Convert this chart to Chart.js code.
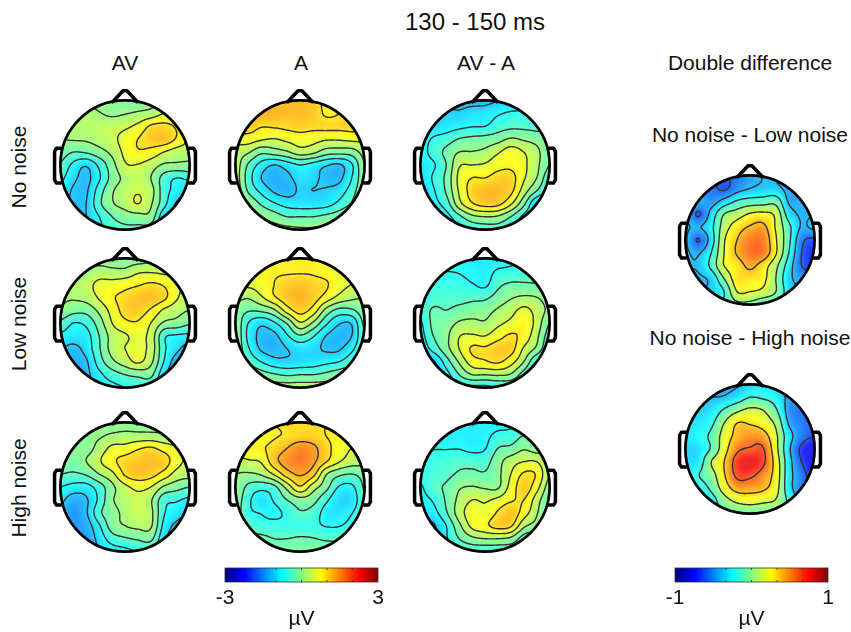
<!DOCTYPE html>
<html lang="en">
<head>
<meta charset="UTF-8">
<title>130 - 150 ms</title>
<script src="https://cdn.jsdelivr.net/npm/chart.js"></script>
<style>
    html, body { margin: 0; padding: 0; background: #fff; }
    #page { position: relative; width: 851px; height: 632px; overflow: hidden; font-family: "Liberation Sans", sans-serif; color: #111; }
    #page canvas { position: absolute; }
    .lbl { position: absolute; transform: translate(-50%, -50%); white-space: nowrap; font-size: 21px; }
    .rot { transform: translate(-50%, -50%) rotate(-90deg); }
</style>
</head>
<body>
<div id="page">
    <div class="lbl" style="left:475px;top:22px;font-size:24px">130 - 150 ms</div>
    <div class="lbl" style="left:125px;top:63px">AV</div>
    <div class="lbl" style="left:301px;top:63px">A</div>
    <div class="lbl" style="left:486px;top:63px">AV - A</div>
    <div class="lbl" style="left:750px;top:63px">Double difference</div>
    <div class="lbl" style="left:750px;top:135px">No noise - Low noise</div>
    <div class="lbl" style="left:750px;top:338px">No noise - High noise</div>
    <div class="lbl rot" style="left:19px;top:167px">No noise</div>
    <div class="lbl rot" style="left:19px;top:324px">Low noise</div>
    <div class="lbl rot" style="left:19px;top:488px">High noise</div>
</div>
<script>
// each grid: 11 rows front to back, 11 columns left to right, in uV
const noNoiseAV = [
    [0.1,0.1,0.1,0,0,-0.1,-0.1,-0.05,0,0.1,0.2],
    [0.2,0.2,0.2,0.12,0.03,0.08,0.15,0.25,0.5,0.6,0.7],
    [0.2,0.2,0.25,0.3,0.35,0.42,0.6,0.95,1.0,0.85,0.6],
    [0.1,0.13,0.15,0.25,0.4,0.65,0.9,1.1,1.15,0.85,0.5],
    [-0.1,-0.3,-0.25,-0.05,0.2,0.6,0.85,0.75,0.5,0.3,0.25],
    [-0.35,-0.8,-1.05,-0.6,-0.05,0.45,0.48,0.3,0.05,0.02,0],
    [-0.6,-1.0,-1.2,-0.75,-0.15,0.2,0.35,0.1,-0.45,-0.7,-0.6],
    [-0.8,-1.15,-1.15,-0.5,0.05,0.3,0.47,0.25,-0.5,-0.85,-1.1],
    [-1.0,-1.15,-1.1,-0.4,0.05,0.25,0.5,0.15,-0.55,-1.15,-1.3],
    [-1.1,-1.15,-1.1,-0.7,-0.3,-0.1,-0.05,-0.05,-1.0,-1.3,-1.3],
    [-1.1,-1.1,-1.1,-0.8,-0.5,-0.4,-0.4,-0.5,-1.1,-1.3,-1.3]
];
const noNoiseA = [
    [1.15,1.15,1.2,1.2,1.2,1.2,1.1,0.8,0.85,1.1,1.1],
    [1.2,1.25,1.25,1.25,1.2,1.2,1.12,0.85,0.9,1.1,1.1],
    [1.1,1.1,0.93,0.95,1.0,1.05,1.0,1.0,1.0,1.05,1.1],
    [0.7,0.7,0.55,0.48,0.6,0.7,0.65,0.55,0.55,0.6,0.6],
    [0.3,0.15,-0.2,-0.1,0.05,0.3,0.2,-0.1,-0.15,-0.1,0.25],
    [0.3,-0.35,-0.85,-1.1,-0.9,-0.7,-0.85,-1.05,-1.15,-0.75,0.1],
    [0.3,-0.5,-1.1,-1.3,-1.2,-0.95,-1.0,-1.2,-1.2,-0.7,0],
    [0.4,-0.35,-0.8,-1.15,-1.25,-1.05,-1.1,-1.05,-0.9,-0.5,0.1],
    [0.5,0.1,-0.35,-0.65,-0.85,-0.9,-0.9,-0.85,-0.6,-0.25,0.3],
    [0.5,0.3,0.1,-0.1,-0.3,-0.3,-0.3,-0.2,-0.05,0.2,0.4],
    [0.5,0.4,0.3,0.25,0.2,0.15,0.15,0.2,0.25,0.3,0.4]
];
const noNoiseDiff = [
    [-1.2,-1.2,-1.2,-1.2,-1.2,-1.2,-1.1,-1,-0.9,-0.9,-0.9],
    [-1.2,-1.2,-1.05,-1.05,-0.95,-0.9,-0.75,-0.65,-0.65,-0.7,-0.7],
    [-1.1,-1.0,-0.9,-0.8,-0.72,-0.7,-0.5,-0.4,-0.4,-0.45,-0.5],
    [-0.9,-0.65,-0.5,-0.28,-0.2,-0.15,-0.05,0.15,0.05,-0.05,-0.2],
    [-0.85,-0.55,-0.2,0.1,0.12,0.2,0.45,0.7,0.5,0.2,-0.2],
    [-0.9,-0.75,-0.3,0.45,0.5,0.55,0.75,0.8,0.58,0.2,-0.3],
    [-1.0,-0.65,-0.2,0.6,0.9,0.9,1.05,1.05,0.55,0.1,-0.6],
    [-1.1,-0.75,-0.25,0.55,1.05,1.2,1.22,1.0,0.3,-0.3,-0.8],
    [-1.2,-0.85,-0.5,0.35,0.85,1.05,1.0,0.55,-0.2,-1.1,-1.2],
    [-1.2,-1.0,-0.85,-0.4,0,0.1,0.05,-0.3,-0.8,-1.1,-1.2],
    [-1.2,-1.1,-1,-0.8,-0.6,-0.5,-0.5,-0.7,-1,-1.2,-1.2]
];
const lowNoiseAV = [
    [0,0,0,-0.05,-0.1,-0.1,-0.1,0,0.1,0.2,0.2],
    [0.1,0.1,0.1,0.25,0.2,0.2,0.42,0.45,0.4,0.4,0.4],
    [0.2,0.2,0.35,0.6,0.65,0.75,0.85,0.95,0.85,0.55,0.4],
    [0.15,0.15,0.25,0.55,0.85,1.0,1.15,1.2,1.0,0.55,0.3],
    [0.05,-0.15,-0.15,0.2,0.65,1.05,1.1,0.85,0.45,0.25,0.1],
    [-0.4,-0.7,-0.6,-0.1,0.5,0.8,0.85,0.5,0.05,-0.05,-0.25],
    [-0.8,-0.9,-0.85,-0.3,0.25,0.45,0.6,0.35,-0.6,-0.75,-0.8],
    [-1.1,-1.2,-0.95,-0.35,0.25,0.5,0.6,0.35,-0.6,-1.0,-1.3],
    [-1.3,-1.3,-1.15,-0.5,0,0.3,0.55,0.2,-0.7,-1.3,-1.4],
    [-1.3,-1.3,-1.2,-0.8,-0.5,-0.3,-0.2,-0.2,-1.0,-1.4,-1.4],
    [-1.3,-1.3,-1.2,-0.9,-0.8,-0.7,-0.6,-0.6,-1.1,-1.4,-1.4]
];
const lowNoiseA = [
    [0.8,0.8,0.8,0.85,0.88,0.88,0.88,0.85,0.7,0.6,0.6],
    [0.8,0.8,0.8,0.85,0.85,0.86,0.85,0.75,0.6,0.6,0.6],
    [0.6,0.6,0.7,0.9,1.1,1.15,1.05,0.95,0.65,0.5,0.4],
    [0.25,0.15,0.45,0.85,1.15,1.25,1.1,0.75,0.4,0.2,0.1],
    [-0.05,-0.25,-0.2,0.05,0.7,1.05,0.75,0,-0.4,-0.35,-0.05],
    [0,-0.7,-1.0,-0.75,-0.25,0.45,0.05,-0.6,-1.05,-1.05,-0.2],
    [0.05,-0.8,-1.2,-1.2,-0.75,-0.35,-0.65,-1.1,-1.25,-1.1,-0.3],
    [0.05,-0.65,-1.15,-1.25,-1.1,-0.95,-1.0,-1.15,-1.15,-0.8,-0.25],
    [0.1,-0.35,-0.7,-0.95,-1.0,-0.95,-0.9,-0.8,-0.7,-0.4,-0.1],
    [0.3,0.1,-0.1,-0.25,-0.35,-0.3,-0.3,-0.2,-0.05,0.05,0.1],
    [0.4,0.3,0.3,0.3,0.3,0.3,0.3,0.3,0.3,0.3,0.3]
];
const lowNoiseDiff = [
    [-0.8,-0.8,-0.8,-0.8,-0.9,-0.9,-0.9,-0.8,-0.7,-0.6,-0.6],
    [-0.7,-0.7,-0.7,-0.72,-0.8,-0.85,-0.65,-0.6,-0.55,-0.5,-0.5],
    [-0.6,-0.55,-0.6,-0.6,-0.68,-0.78,-0.4,-0.25,-0.25,-0.28,-0.3],
    [-0.7,-0.5,-0.45,-0.45,-0.4,-0.38,-0.15,0.05,0.15,0.1,-0.1],
    [-0.55,-0.25,-0.3,-0.18,-0.1,-0.05,0.15,0.35,0.6,0.35,0],
    [-0.75,-0.2,-0.1,0.15,0.2,0.15,0.4,0.6,0.8,0.35,-0.3],
    [-0.85,-0.3,0,0.48,0.55,0.5,0.75,0.95,0.75,0.2,-0.5],
    [-1.0,-0.55,-0.05,0.5,0.95,0.95,1.1,1.05,0.45,0,-0.7],
    [-1.2,-1.15,-0.5,0.15,0.7,0.85,0.95,0.65,0.1,-0.7,-0.9],
    [-1.2,-1.1,-0.85,-0.3,0.1,0.1,0.15,0.05,-0.5,-0.95,-1],
    [-1.2,-1.1,-1,-0.8,-0.8,-0.8,-0.7,-0.7,-0.9,-1,-1]
];
const highNoiseAV = [
    [0,0,0,0,-0.05,-0.05,-0.05,-0.05,0,0,0],
    [0,0,0,0.05,0.15,0.2,0.2,0.2,0.15,0.1,0.1],
    [0,0,-0.05,0.25,0.6,0.65,0.85,0.95,0.75,0.55,0.45],
    [0,-0.15,0.1,0.45,0.8,1.05,1.15,1.2,1.1,0.65,0.4],
    [-0.3,-0.35,-0.25,0.1,0.4,0.95,1.15,1.05,0.75,0.35,0.25],
    [-0.7,-0.85,-0.85,-0.5,0,0.4,0.6,0.5,0.05,-0.15,-0.3],
    [-1.0,-1.3,-1.15,-0.6,0.05,0.25,0.4,0.15,-0.55,-0.65,-0.8],
    [-1.2,-1.45,-1.15,-0.4,-0.05,0.2,0.4,0.2,-0.65,-0.9,-1.15],
    [-1.45,-1.45,-1.3,-0.75,-0.1,0.1,0.2,0.15,-0.8,-1.2,-1.3],
    [-1.45,-1.45,-1.4,-0.95,-0.5,-0.35,-0.25,-0.2,-1.0,-1.3,-1.3],
    [-1.45,-1.45,-1.4,-1.1,-0.9,-0.8,-0.7,-0.7,-1.1,-1.3,-1.3]
];
const highNoiseA = [
    [0.8,0.8,0.8,0.9,1.0,1.0,1.0,0.9,0.8,0.7,0.7],
    [0.8,0.8,0.7,0.85,0.95,1.05,1.05,0.9,0.75,0.7,0.7],
    [0.9,0.85,0.85,1.05,1.3,1.55,1.4,1.05,0.7,0.5,0.4],
    [0.3,0.45,0.55,1.15,1.5,1.65,1.4,0.95,0.55,0.3,0.25],
    [0.1,0.05,0.15,0.55,1.1,1.35,1.05,0.15,-0.2,-0.3,-0.15],
    [0.05,-0.4,-0.55,-0.4,0.25,0.85,0.3,-0.15,-0.72,-0.78,-0.25],
    [-0.05,-0.6,-0.95,-0.65,-0.3,-0.05,-0.15,-0.6,-1.0,-0.95,-0.35],
    [-0.1,-0.6,-0.72,-0.8,-0.6,-0.35,-0.45,-0.85,-0.9,-0.72,-0.35],
    [-0.1,-0.4,-0.55,-0.55,-0.6,-0.6,-0.6,-0.72,-0.72,-0.55,-0.3],
    [-0.1,-0.2,-0.2,-0.3,-0.3,-0.25,-0.28,-0.35,-0.35,-0.25,-0.2],
    [-0.1,-0.1,-0.1,-0.1,-0.1,-0.1,-0.1,-0.1,-0.1,-0.1,-0.1]
];
const highNoiseDiff = [
    [-0.85,-0.85,-0.85,-0.85,-0.85,-0.85,-0.85,-0.8,-0.7,-0.6,-0.5],
    [-0.85,-0.85,-0.85,-0.85,-0.85,-0.8,-0.6,-0.55,-0.3,-0.3,-0.3],
    [-0.75,-0.72,-0.72,-0.72,-0.8,-0.72,-0.3,-0.2,0.05,-0.1,-0.1],
    [-0.75,-0.55,-0.5,-0.4,-0.45,-0.45,-0.05,0.3,0.48,0.48,0.05],
    [-0.6,-0.5,-0.4,-0.25,-0.2,-0.25,0,0.5,0.95,0.85,0.1],
    [-0.75,-0.4,-0.25,0.05,0.12,0.05,0.05,0.65,1.1,0.65,-0.1],
    [-0.85,-0.65,-0.25,0.2,0.5,0.45,0.6,0.85,0.9,0.3,-0.3],
    [-1.0,-0.85,-0.35,0.3,0.7,0.6,0.95,1.15,0.7,0.15,-0.5],
    [-1.2,-1.15,-0.7,0,0.6,0.8,1.05,0.95,0.2,-0.1,-0.6],
    [-1.2,-1.1,-0.75,-0.3,0,0.1,0.1,0,-0.5,-0.7,-0.8],
    [-1.2,-1.1,-1,-0.7,-0.6,-0.6,-0.6,-0.6,-0.7,-0.8,-0.8]
];
const doubleLow = [
    [-0.55,-0.55,-0.55,-0.6,-0.55,-0.45,-0.4,-0.4,-0.45,-0.45,-0.45],
    [-0.5,-0.5,-0.55,-0.63,-0.48,-0.4,-0.36,-0.36,-0.45,-0.5,-0.5],
    [-0.4,-0.42,-0.48,-0.33,-0.18,-0.12,-0.1,-0.08,-0.42,-0.42,-0.42],
    [-0.38,-0.62,-0.33,0,0.1,0.22,0.25,0.15,-0.3,-0.42,-0.4],
    [-0.38,-0.42,-0.25,0.1,0.3,0.42,0.45,0.18,-0.15,-0.42,-0.35],
    [-0.38,-0.61,-0.3,0.18,0.4,0.55,0.54,0.22,-0.15,-0.55,-0.65],
    [-0.38,-0.42,-0.2,0.2,0.42,0.56,0.54,0.22,-0.2,-0.6,-0.75],
    [-0.38,-0.38,-0.15,0.2,0.3,0.44,0.3,0.05,-0.3,-0.6,-0.7],
    [-0.4,-0.42,-0.35,0,0.3,0.3,0.25,0,-0.35,-0.45,-0.5],
    [-0.4,-0.4,-0.35,-0.2,0.2,0.2,0.15,0,-0.3,-0.4,-0.4],
    [-0.3,-0.3,-0.3,-0.15,-0.05,-0.05,-0.15,-0.2,-0.3,-0.3,-0.3]
];
const doubleHigh = [
    [-0.45,-0.45,-0.45,-0.45,-0.42,-0.35,-0.3,-0.35,-0.45,-0.5,-0.5],
    [-0.4,-0.4,-0.4,-0.38,-0.28,-0.15,-0.18,-0.25,-0.45,-0.5,-0.5],
    [-0.35,-0.35,-0.3,-0.12,0.05,0.15,0.1,-0.12,-0.48,-0.55,-0.55],
    [-0.3,-0.3,-0.2,0.1,0.35,0.33,0.25,0.05,-0.42,-0.55,-0.6],
    [-0.3,-0.25,-0.1,0.2,0.42,0.5,0.45,0.15,-0.3,-0.55,-0.65],
    [-0.35,-0.32,-0.12,0.25,0.55,0.62,0.62,0.18,-0.35,-0.7,-0.85],
    [-0.33,-0.28,0.1,0.35,0.7,0.8,0.65,0.25,-0.3,-0.65,-0.85],
    [-0.3,-0.16,0,0.33,0.65,0.65,0.5,0.25,-0.3,-0.55,-0.8],
    [-0.3,-0.25,-0.1,0.22,0.45,0.45,0.4,0.2,-0.3,-0.55,-0.6],
    [-0.3,-0.3,-0.25,0,0.15,0.2,0.15,0.08,-0.2,-0.5,-0.5],
    [-0.3,-0.3,-0.25,-0.1,-0.1,-0.1,-0.1,-0.1,-0.2,-0.4,-0.4]
];

const levelsMain = [-1.9,-1.5,-1.1,-0.7,-0.3,0.1,0.5,0.9,1.3,1.7];
const levelsLow = [-0.6,-0.4,-0.2,0,0.2,0.4,0.6];
const levelsHigh = [-0.65,-0.4,-0.15,0.1,0.35,0.6];
const mainTicks = [-3,3];
const doubleTicks = [-1,1];

function jet(t) {
    const f = x => Math.max(0, Math.min(1, x));
    return [f(1.5 - Math.abs(4*t - 3)), f(1.5 - Math.abs(4*t - 2)), f(1.5 - Math.abs(4*t - 1))].map(c => Math.round(c*255));
}

function catmull(a, b, c, d, t) {
    return b + 0.5*t*(c - a + t*(2*a - 5*b + 4*c - d + t*(3*(b - c) + d - a)));
}

// smooth value of a grid at head position x, y (-1..1)
function sample(grid, x, y) {
    const fx = Math.max(0, Math.min(9.999, (x + 1)*5));
    const fy = Math.max(0, Math.min(9.999, (1 - y)*5));
    const ix = Math.floor(fx), iy = Math.floor(fy);
    const row = r => {
        const rr = grid[Math.max(0, Math.min(10, r))];
        const at = i => rr[Math.max(0, Math.min(10, i))];
        return catmull(at(ix-1), at(ix), at(ix+1), at(ix+2), fx - ix);
    };
    return catmull(row(iy-1), row(iy), row(iy+1), row(iy+2), fy - iy);
}

function topoPlugin(grid, range, levels) {
    return {
        id: 'topo',
        beforeDatasetsDraw(chart) {
            const ctx = chart.ctx, sx = chart.scales.x, sy = chart.scales.y;
            const w = chart.width, h = chart.height;
            const off = document.createElement('canvas');
            off.width = w; off.height = h;
            const octx = off.getContext('2d');
            const img = octx.createImageData(w, h);
            const field = [];
            for (let j = 0; j <= h; j++) {
                const line = [];
                const y = sy.getValueForPixel(j);
                for (let i = 0; i <= w; i++) {
                    const x = sx.getValueForPixel(i);
                    const v = x*x + y*y < 1.1 ? sample(grid, x, y) : NaN;
                    line.push(v);
                    if (i < w && j < h && !isNaN(v)) {
                        const c = jet((v + range)/(2*range));
                        const k = (j*w + i)*4;
                        // the maps look a bit washed out next to the colour bar
                        img.data[k] = c[0]*0.85 + 38; img.data[k+1] = c[1]*0.85 + 38; img.data[k+2] = c[2]*0.85 + 38; img.data[k+3] = 255;
                    }
                }
                field.push(line);
            }
            octx.putImageData(img, 0, 0);

            ctx.save();
            ctx.beginPath();
            ctx.arc(sx.getPixelForValue(0), sy.getPixelForValue(0), sx.getPixelForValue(1) - sx.getPixelForValue(0), 0, Math.PI*2);
            ctx.clip();
            ctx.drawImage(off, 0, 0);

            ctx.strokeStyle = '#333';
            ctx.lineWidth = 1.4;
            ctx.lineCap = 'round';
            levels.forEach(L => {
                ctx.beginPath();
                for (let j = 0; j < h; j++) {
                    for (let i = 0; i < w; i++) {
                        const a = field[j][i], b = field[j][i+1], c = field[j+1][i+1], d = field[j+1][i];
                        if (isNaN(a) || isNaN(b) || isNaN(c) || isNaN(d)) continue;
                        const pts = [];
                        if ((a < L) !== (b < L)) pts.push([i + (L-a)/(b-a), j]);
                        if ((b < L) !== (c < L)) pts.push([i+1, j + (L-b)/(c-b)]);
                        if ((d < L) !== (c < L)) pts.push([i + (L-d)/(c-d), j+1]);
                        if ((a < L) !== (d < L)) pts.push([i, j + (L-a)/(d-a)]);
                        if (pts.length >= 2) {
                            ctx.moveTo(pts[0][0], pts[0][1]);
                            ctx.lineTo(pts[1][0], pts[1][1]);
                        }
                    }
                }
                ctx.stroke();
            });
            ctx.restore();
        },
        afterDatasetsDraw(chart) {
            const ctx = chart.ctx, sx = chart.scales.x, sy = chart.scales.y;
            ctx.save();
            ctx.strokeStyle = '#000';
            ctx.lineWidth = 2.7;
            ctx.beginPath();
            ctx.arc(sx.getPixelForValue(0), sy.getPixelForValue(0), sx.getPixelForValue(1) - sx.getPixelForValue(0), 0, Math.PI*2);
            ctx.stroke();
            ctx.restore();
        }
    };
}

const noseLine = [{x:-0.19,y:0.98},{x:-0.03,y:1.15},{x:0.03,y:1.15},{x:0.19,y:0.98}];
const earLeft = [{x:-0.99,y:0.26},{x:-1.06,y:0.26},{x:-1.09,y:0.21},{x:-1.09,y:-0.23},{x:-1.06,y:-0.28},{x:-0.99,y:-0.28}];
const earRight = earLeft.map(p => ({x:-p.x, y:p.y}));

function addCanvas(left, top, w, h) {
    const c = document.createElement('canvas');
    c.width = w; c.height = h;
    c.style.left = left + 'px';
    c.style.top = top + 'px';
    c.style.width = w + 'px';
    c.style.height = h + 'px';
    document.getElementById('page').appendChild(c);
    return c;
}

function drawHead(cx, cy, grid, range, levels) {
    const size = 168;
    const c = addCanvas(cx - size/2, cy - size/2, size, size);
    const cells = [];
    grid.forEach((row, r) => row.forEach((v, i) => cells.push({x: -1 + i*0.2, y: 1 - r*0.2, v: v})));
    const outline = pts => ({data: pts, showLine: true, pointRadius: 0, borderColor: '#000', borderWidth: 3.5, borderJoinStyle: 'round', borderCapStyle: 'round', fill: false});
    new Chart(c, {
        type: 'scatter',
        data: {datasets: [
            {data: cells, pointRadius: 0},
            outline(noseLine),
            outline(earLeft),
            outline(earRight)
        ]},
        options: {
            responsive: false,
            animation: false,
            layout: {padding: 0},
            clip: false,
            plugins: {legend: {display: false}, tooltip: {enabled: false}},
            scales: {
                x: {type: 'linear', min: -1.3, max: 1.3, display: false},
                y: {type: 'linear', min: -1.3, max: 1.3, display: false}
            }
        },
        plugins: [topoPlugin(grid, range, levels)]
    });
}

function drawColorbar(left, ticks) {
    const lo = ticks[0], hi = ticks[1];
    const c = addCanvas(left - 30, 560, 213, 72);
    const step = (hi - lo)/6;
    new Chart(c, {
        type: 'scatter',
        data: {datasets: [{data: ticks.map(t => ({x: t, y: 0})), pointRadius: 0}]},
        options: {
            responsive: false,
            animation: false,
            layout: {padding: {left: 30, right: 30, top: 8, bottom: 0}},
            plugins: {legend: {display: false}, tooltip: {enabled: false}},
            scales: {
                y: {display: false, min: 0, max: 1},
                x: {
                    type: 'linear', min: lo, max: hi,
                    grid: {display: false, drawTicks: false},
                    border: {display: false},
                    afterFit(scale) { scale.height = 50; },
                    ticks: {
                        stepSize: step, maxRotation: 0, padding: 4, autoSkip: false, color: '#111',
                        font: {family: 'Liberation Sans', size: 21},
                        callback: v => ticks.includes(v) ? String(v) : ''
                    },
                    title: {display: true, text: 'µV', color: '#111', padding: 0, font: {family: 'Liberation Sans', size: 21}}
                }
            }
        },
        plugins: [{
            id: 'bar',
            beforeDatasetsDraw(chart) {
                const ctx = chart.ctx, a = chart.chartArea, sx = chart.scales.x;
                const top = a.top, bot = a.top + 14;
                for (let p = Math.round(a.left); p < Math.round(a.right); p++) {
                    const col = jet((sx.getValueForPixel(p + 0.5) - lo)/(hi - lo));
                    ctx.fillStyle = 'rgb(' + col.join(',') + ')';
                    ctx.fillRect(p, top, 1, bot - top);
                }
                ctx.strokeStyle = '#333';
                ctx.lineWidth = 0.8;
                ctx.strokeRect(a.left, top, a.right - a.left, bot - top);
                ctx.beginPath();
                for (let i = 1; i < 6; i++) {
                    const x = sx.getPixelForValue(lo + i*step);
                    ctx.moveTo(x, top); ctx.lineTo(x, top + 2);
                    ctx.moveTo(x, bot); ctx.lineTo(x, bot - 2);
                }
                ctx.stroke();
            }
        }]
    });
}

drawHead(125, 165, noNoiseAV, 3, levelsMain);
drawHead(300, 165, noNoiseA, 3, levelsMain);
drawHead(485, 165, noNoiseDiff, 3, levelsMain);
drawHead(125, 323, lowNoiseAV, 3, levelsMain);
drawHead(300, 323, lowNoiseA, 3, levelsMain);
drawHead(485, 323, lowNoiseDiff, 3, levelsMain);
drawHead(125, 487, highNoiseAV, 3, levelsMain);
drawHead(300, 487, highNoiseA, 3, levelsMain);
drawHead(485, 487, highNoiseDiff, 3, levelsMain);
drawHead(750, 240, doubleLow, 1, levelsLow);
drawHead(750, 449, doubleHigh, 1, levelsHigh);
drawColorbar(225, mainTicks);
drawColorbar(675, doubleTicks);
</script>
</body>
</html>
